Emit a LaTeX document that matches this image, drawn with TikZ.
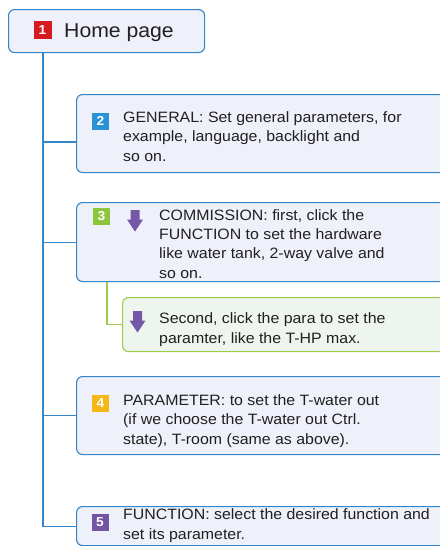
\documentclass[tikz,border=0pt]{standalone}
\usepackage{fontspec}
\setmainfont{Liberation Sans}[FakeStretch=1.06]
\definecolor{boxblue}{HTML}{3585CA}
\definecolor{boxfill}{HTML}{EEF1F9}
\definecolor{subgreen}{HTML}{9CCB45}
\definecolor{subfill}{HTML}{EEF5EE}
\definecolor{txt}{HTML}{231F20}
\definecolor{bred}{HTML}{D71920}
\definecolor{bblue}{HTML}{2B92D5}
\definecolor{bgreen}{HTML}{8CC63F}
\definecolor{byellow}{HTML}{F5B819}
\definecolor{bpurple}{HTML}{7354A3}
\definecolor{apurple}{HTML}{7557A7}
\begin{document}
\begin{tikzpicture}[x=1pt,y=1pt,
  mainbox/.style={draw=boxblue,fill=boxfill,line width=1.1pt,rounded corners=6pt,
    anchor=north west,inner sep=0pt,minimum width=#1},
  subbox/.style={draw=subgreen,fill=subfill,line width=1.1pt,rounded corners=6pt,
    anchor=north west,inner sep=0pt,minimum width=334pt},
  badge/.style={fill=#1,text=white,font=\fontsize{13}{13}\selectfont\bfseries,
    minimum size=17pt,inner sep=0pt},
  body/.style={anchor=base west,inner sep=0pt,align=left,text=txt,
    font=\fontsize{15}{19.2}\selectfont},
  bluelink/.style={draw=boxblue,line width=1.1pt},
  greenlink/.style={draw=subgreen,line width=1.1pt},
  downarrow/.pic={\fill[apurple] (-4.5,0) -- (4.5,0) -- (4.5,-9.5) -- (8,-9.5)
     -- (0,-21.5) -- (-8,-9.5) -- (-4.5,-9.5) -- cycle;}
]
\useasboundingbox (0,0) rectangle (439,-546);

% boxes
\node[mainbox=196pt,minimum height=43pt] (home) at (8,-9) {};
\node[mainbox=380pt,minimum height=78pt] (b2) at (76,-94) {};
\node[mainbox=380pt,minimum height=79pt] (b3) at (76,-202) {};
\node[subbox,minimum height=54pt] (sub) at (122,-297) {};
\node[mainbox=380pt,minimum height=78pt] (b4) at (76,-376) {};
\node[mainbox=380pt,minimum height=39pt] (b5) at (76,-506) {};

% connectors
\coordinate (spine) at (43,-9);
\coordinate (c2) at (76,-142);
\coordinate (c3) at (107,-202);
\draw[bluelink] (spine |- home.south) |- (c2);
\draw[bluelink] (spine |- home.south) |- (b3.west);
\draw[bluelink] (spine |- home.south) |- (b4.west);
\draw[bluelink] (spine |- home.south) |- (b5.west);
\draw[greenlink] (c3 |- b3.south) |- (sub.west);

% badges
\node[badge=bred,minimum size=18pt] (n1) at (42.5,-30) {1};
\node[badge=bblue] (n2) at (100.5,-121) {2};
\node[badge=bgreen] (n3) at (101.5,-216) {3};
\node[badge=byellow] (n4) at (100.5,-403) {4};
\node[badge=bpurple] (n5) at (100,-522.5) {5};

% arrows
\pic at (135,-210) {downarrow};
\pic at (137.5,-311) {downarrow};

% texts (base anchor = last line)
\node[body,font=\fontsize{20}{20}\selectfont] (t1) at (64,-37.5) {Home page};
\node[body] (t2) at (123,-161) {GENERAL: Set general parameters, for\\example, language, backlight and\\so on.};
\node[body] (t3) at (159,-278) {COMMISSION: first, click the\\FUNCTION to set the hardware\\like water tank, 2-way valve and\\so on.};
\node[body] (ts) at (159,-343) {Second, click the para to set the\\paramter, like the T-HP max.};
\node[body] (t4) at (123,-444) {PARAMETER: to set the T-water out\\(if we choose the T-water out Ctrl.\\state), T-room (same as above).};
\node[body] (t5) at (123,-539) {FUNCTION: select the desired function and\\set its parameter.};
\end{tikzpicture}
\end{document}
